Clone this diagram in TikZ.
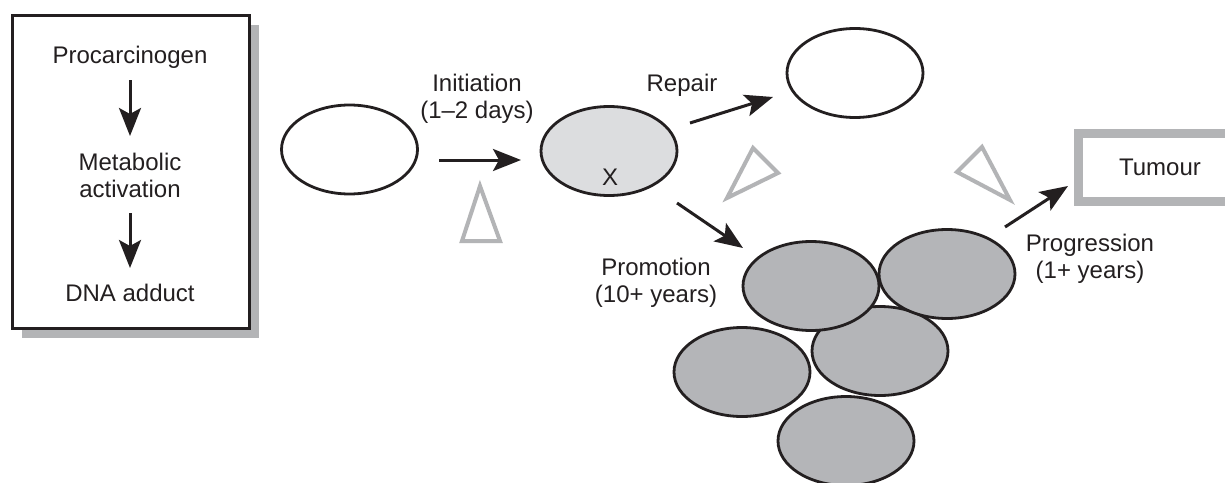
\documentclass[tikz,border=0pt]{standalone}
\usepackage{fontspec}
\setmainfont{Liberation Sans}
\usetikzlibrary{shapes.geometric,arrows.meta}
\definecolor{lgray}{HTML}{B3B4B6}
\definecolor{xfill}{HTML}{DCDDDF}
\definecolor{cfill}{HTML}{B4B5B8}
\definecolor{ink}{HTML}{231F20}
\tikzset{
  txt/.style={align=center,font=\fontsize{24}{27}\selectfont,inner sep=0pt,text=ink},
  cell/.style={ellipse,draw=ink,line width=2.8pt,minimum width=136,minimum height=89,inner sep=0pt},
  arr/.style={draw=ink,line width=3pt,-{Stealth[length=28pt,width=22pt,inset=6pt]}},
  tri/.style={draw=lgray,line width=4pt,line join=miter},
}
\begin{document}
\begin{tikzpicture}[x=1pt,y=-1pt]
\clip (0,0) rectangle (1225,482);
\fill[white] (0,0) rectangle (1225,482);
% left box with shadow
\fill[lgray] (22,25) rectangle (259,338);
\node[draw=ink,fill=white,line width=3pt,minimum width=237,minimum height=313,inner sep=0pt] (box) at (130.5,171.5) {};
\node[txt] (proc) at (130,57) {Procarcinogen};
\node[txt] (meta) at (130,175) {Metabolic\\activation};
\node[txt] (dna) at (130,293) {DNA adduct};
\coordinate (a1s) at (130,80); \coordinate (a1e) at (130,136);
\coordinate (a2s) at (130,213); \coordinate (a2e) at (130,268);
\draw[arr] (a1s) -- (a1e);
\draw[arr] (a2s) -- (a2e);
% cells
\node[cell,fill=white] (c0) at (349.5,149.5) {};
\node[cell,fill=xfill] (cx) at (609,151) {};
\node[txt] (xl) at (610,177) {X};
\node[cell,fill=white] (cr) at (855,73) {};
\node[cell,fill=cfill] (e4) at (742,372) {};
\node[cell,fill=cfill] (e5) at (846,441) {};
\node[cell,fill=cfill] (e3) at (880,351) {};
\node[cell,fill=cfill] (e1) at (811,286) {};
\node[cell,fill=cfill] (e2) at (947,274) {};
% labels
\node[txt] (init) at (477,99) {Initiation\\(1--2 days)};
\node[txt] (rep) at (682,85) {Repair};
\node[txt] (prom) at (656,283) {Promotion\\(10+ years)};
\node[txt] (prog) at (1090,259) {Progression\\(1+ years)};
% tumour box
\draw[lgray,line width=9pt] (1078,133.5) rectangle (1250,201.5);
\node[txt] (tum) at (1160,167) {Tumour};
% arrows
\coordinate (is) at (439,160); \coordinate (ie) at (521,160);
\coordinate (rs) at (690,123); \coordinate (re) at (773,97);
\coordinate (ps) at (677,203); \coordinate (pe) at (743,248);
\coordinate (gs) at (1005,227); \coordinate (ge) at (1068,186);
\draw[arr] (is) -- (ie);
\draw[arr] (rs) -- (re);
\draw[arr] (ps) -- (pe);
\draw[arr] (gs) -- (ge);
% triangles
\draw[tri] (480,186) -- (500,241) -- (462,241) -- cycle;
\draw[tri] (753,148) -- (778,173) -- (727,198) -- cycle;
\draw[tri] (982,147) -- (1010,200) -- (957,172) -- cycle;
\end{tikzpicture}
\end{document}
